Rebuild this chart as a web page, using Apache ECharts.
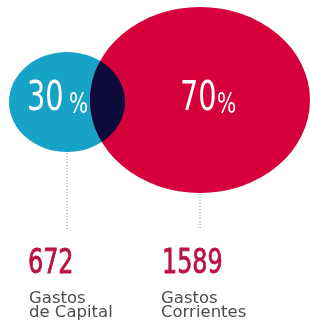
<!DOCTYPE html>
<html>
<head>
<meta charset="utf-8">
<script src="https://cdn.jsdelivr.net/npm/echarts@6/dist/echarts.min.js"></script>
<style>
  html, body { margin: 0; padding: 0; background: #fff; }
  #chart { width: 310px; height: 322px; }
</style>
</head>
<body>
<div id="chart"></div>
<script>
// data
const categories = ['Gastos\nde Capital', 'Gastos\nCorrientes'];
const shares = [30, 70];
const amounts = [672, 1589];

// layout in axis units (axes map 1:1 to pixels)
const layout = [
  { cx: 67, cy: 102, rx: 58, ry: 50, color: '#17a3c8', shareX: 27, pctX: 69, lineTop: 153, numX: 28, labX: 29 },
  { cx: 200, cy: 100, rx: 110, ry: 93, color: '#d6003a', shareX: 180, pctX: 217, lineTop: 194, numX: 162, labX: 161 }
];
const overlapColor = '#0d0b3a';

const narrow = "'Liberation Sans Narrow', 'DejaVu Sans Condensed', sans-serif";

const chart = echarts.init(document.getElementById('chart'));

function inside(e, p) {
  const dx = (p[0] - e.cx) / e.rx;
  const dy = (p[1] - e.cy) / e.ry;
  return dx * dx + dy * dy <= 1;
}

function boundary(e, n) {
  const pts = [];
  for (let k = 0; k < n; k++) {
    const a = (k / n) * Math.PI * 2;
    pts.push([e.cx + e.rx * Math.cos(a), e.cy + e.ry * Math.sin(a)]);
  }
  return pts;
}

// lens where the two ellipses overlap
function overlap(a, b) {
  const pts = boundary(a, 720).filter(p => inside(b, p))
    .concat(boundary(b, 720).filter(p => inside(a, p)));
  if (!pts.length) return [];
  let mx = 0, my = 0;
  pts.forEach(p => { mx += p[0]; my += p[1]; });
  mx /= pts.length; my /= pts.length;
  return pts.sort((p, q) => Math.atan2(p[1] - my, p[0] - mx) - Math.atan2(q[1] - my, q[0] - mx));
}

function renderItem(params, api) {
  const i = params.dataIndex;
  const l = layout[i];
  const c = api.coord([l.cx, l.cy]);
  const edge = api.coord([l.cx + l.rx, l.cy + l.ry]);
  const rx = edge[0] - c[0];
  const ry = edge[1] - c[1];
  const lt = api.coord([l.cx, l.lineTop]);
  const lb = api.coord([l.cx, 229]);
  const s = api.coord([l.shareX, 100]);
  const p = api.coord([l.pctX, 106]);
  const n = api.coord([l.numX, 264]);
  const t = api.coord([l.labX, 292]);
  const children = [
    {
      type: 'circle',
      x: c[0],
      y: c[1],
      scaleY: ry / rx,
      shape: { cx: 0, cy: 0, r: rx },
      style: { fill: l.color }
    }
  ];
  if (i === layout.length - 1) {
    const lens = overlap(layout[0], layout[1]).map(q => api.coord(q));
    if (lens.length) {
      children.push({
        type: 'polygon',
        shape: { points: lens },
        style: { fill: overlapColor }
      });
    }
  }
  children.push(
    {
      type: 'line',
      shape: { x1: lt[0], y1: lt[1], x2: lb[0], y2: lb[1] },
      style: { stroke: '#8a8a8a', lineWidth: 1, lineDash: [1, 2] }
    },
    {
      type: 'text',
      x: s[0],
      y: s[1],
      scaleX: 0.8,
      style: {
        text: String(api.value(1)),
        font: '40px ' + narrow,
        fill: '#fff',
        align: 'left',
        verticalAlign: 'middle'
      }
    },
    {
      type: 'text',
      x: p[0],
      y: p[1],
      scaleX: 0.8,
      style: {
        text: '%',
        font: '28px ' + narrow,
        fill: '#fff',
        align: 'left',
        verticalAlign: 'middle'
      }
    },
    {
      type: 'text',
      x: n[0],
      y: n[1],
      scaleX: 0.78,
      style: {
        text: String(api.value(2)),
        font: '34px ' + narrow,
        fill: '#bb123f',
        stroke: '#bb123f',
        lineWidth: 0.8,
        align: 'left',
        verticalAlign: 'middle'
      }
    },
    {
      type: 'text',
      x: t[0],
      y: t[1],
      scaleX: 1.1,
      style: {
        text: categories[i],
        font: '15px "DejaVu Sans", sans-serif',
        lineHeight: 14,
        fill: '#4d4d4d',
        align: 'left',
        verticalAlign: 'top'
      }
    }
  );
  return { type: 'group', children: children };
}

const option = {
  backgroundColor: '#fff',
  animation: false,
  grid: { left: 0, right: 0, top: 0, bottom: 0 },
  xAxis: { type: 'value', min: 0, max: 310, show: false },
  yAxis: { type: 'value', min: 0, max: 322, inverse: true, show: false },
  series: [
    {
      type: 'custom',
      renderItem: renderItem,
      data: categories.map((c, i) => [i, shares[i], amounts[i]])
    }
  ]
};

chart.setOption(option);
</script>
</body>
</html>
